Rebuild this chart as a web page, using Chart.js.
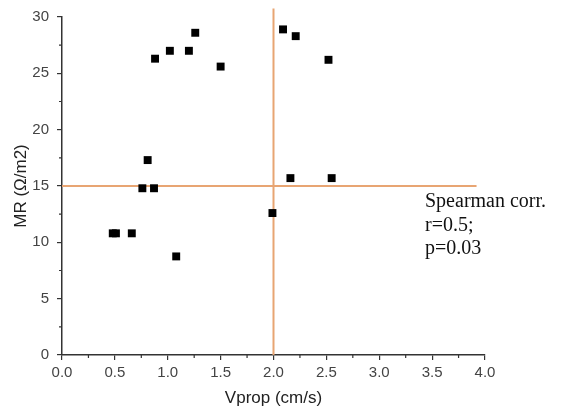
<!DOCTYPE html>
<html>
<head>
<meta charset="utf-8">
<script src="https://cdn.jsdelivr.net/npm/chart.js@4.4.0/dist/chart.umd.min.js"></script>
<style>
  html, body { margin: 0; padding: 0; background: #fff; }
  #wrap { position: relative; width: 564px; height: 411px; }
  #note {
    position: absolute; left: 425px; top: 189px;
    font-family: "Liberation Serif", "Times New Roman", serif;
    font-size: 20px; line-height: 23.5px; color: #111;
  }
</style>
</head>
<body>
<div id="wrap">
  <canvas id="chart" width="564" height="411"></canvas>
  <div id="note">Spearman corr.<br>r=0.5;<br>p=0.03</div>
</div>
<script>
// data
const vprop = [0.48, 0.51, 0.66, 0.76, 0.81, 0.87, 0.88, 1.02, 1.08, 1.20, 1.26, 1.50, 1.99, 2.09, 2.16, 2.21, 2.52, 2.55];
const mr    = [10.8, 10.8, 10.8, 14.8, 17.3, 14.8, 26.3, 27.0, 8.75, 27.0, 28.6, 25.6, 12.6, 28.9, 15.7, 28.3, 26.2, 15.7];

// cut-off lines
const cutX = 2.0;
const cutY = 15;
const hLineFrom = 0, hLineTo = 3.92;
const vLineFrom = 0, vLineTo = 30.75;

const xMinor = [0.25, 0.75, 1.25, 1.75, 2.25, 2.75, 3.25, 3.75];
const yMinor = [2.5, 7.5, 12.5, 17.5, 22.5, 27.5];

const points = vprop.map((v, i) => ({ x: v, y: mr[i] }));
const orange = 'rgb(232,165,115)';
const axisColor = '#333';
const labelFont = { family: 'Liberation Sans, Arial', size: 15 };
const titleFont = { family: 'Liberation Sans, Arial', size: 17 };

const minorTicks = {
    id: 'minorTicks',
    afterDraw(chart) {
        const { ctx, scales: { x, y } } = chart;
        ctx.save();
        ctx.strokeStyle = axisColor;
        ctx.lineWidth = 1.2;
        ctx.beginPath();
        xMinor.forEach(v => {
            const px = x.getPixelForValue(v);
            ctx.moveTo(px, y.bottom);
            ctx.lineTo(px, y.bottom + 3);
        });
        yMinor.forEach(v => {
            const py = y.getPixelForValue(v);
            ctx.moveTo(x.left, py);
            ctx.lineTo(x.left - 3, py);
        });
        ctx.stroke();
        ctx.restore();
    }
};

new Chart(document.getElementById('chart'), {
    type: 'scatter',
    data: {
        datasets: [
            {
                data: points,
                pointStyle: 'rect',
                pointRadius: 5.6,
                pointHoverRadius: 5.6,
                backgroundColor: '#000',
                borderColor: '#000',
                borderWidth: 0,
                order: 0
            },
            {
                type: 'line',
                data: [{ x: hLineFrom, y: cutY }, { x: hLineTo, y: cutY }],
                borderColor: orange,
                borderWidth: 2,
                pointRadius: 0,
                clip: false,
                order: 1
            },
            {
                type: 'line',
                data: [{ x: cutX, y: vLineFrom }, { x: cutX, y: vLineTo }],
                borderColor: orange,
                borderWidth: 2,
                pointRadius: 0,
                clip: false,
                order: 1
            }
        ]
    },
    options: {
        responsive: false,
        animation: false,
        layout: { padding: { top: 16, right: 79, left: 0, bottom: 0 } },
        plugins: {
            legend: { display: false },
            tooltip: { enabled: false }
        },
        scales: {
            x: {
                type: 'linear',
                min: 0,
                max: 4,
                afterFit: s => { s.height = 56; },
                ticks: {
                    stepSize: 0.5,
                    padding: 4,
                    color: '#444',
                    font: labelFont,
                    callback: v => v.toFixed(1)
                },
                grid: { display: true, drawOnChartArea: false, drawTicks: true, tickLength: 5, color: axisColor, lineWidth: 1.2 },
                border: { display: true, color: axisColor, width: 1.5 },
                title: {
                    display: true,
                    text: 'Vprop (cm/s)',
                    color: '#222',
                    font: titleFont,
                    padding: { top: 0, bottom: 2 }
                }
            },
            y: {
                type: 'linear',
                min: 0,
                max: 30,
                afterFit: s => { s.width = 62; },
                ticks: {
                    stepSize: 5,
                    padding: 8,
                    color: '#444',
                    font: labelFont
                },
                grid: { display: true, drawOnChartArea: false, drawTicks: true, tickLength: 5, color: axisColor, lineWidth: 1.2 },
                border: { display: true, color: axisColor, width: 1.5 },
                title: {
                    display: true,
                    text: 'MR (Ω/m2)',
                    color: '#222',
                    font: titleFont,
                    padding: { top: 11, bottom: 0 }
                }
            }
        }
    },
    plugins: [minorTicks]
});
</script>
</body>
</html>
